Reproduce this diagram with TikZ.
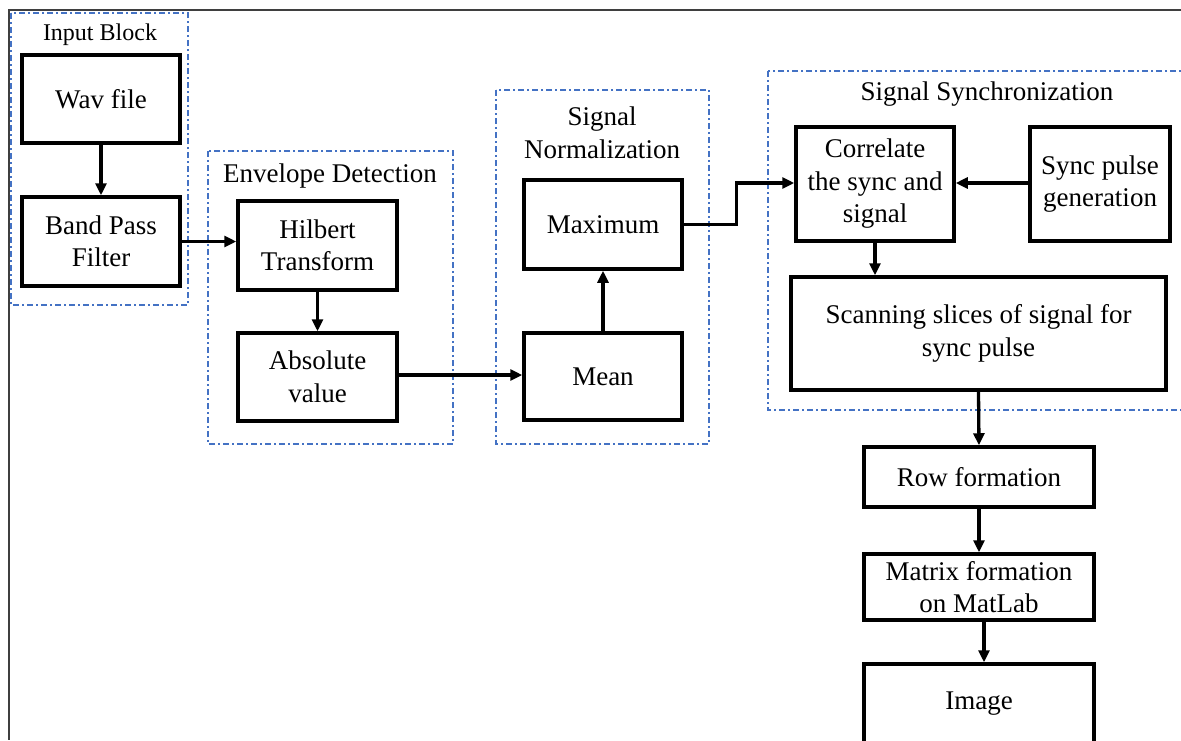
\documentclass[tikz,border=0pt]{standalone}
\usepackage{fontspec}
\setmainfont{Liberation Serif}
\usetikzlibrary{arrows.meta}
\definecolor{grpblue}{HTML}{4472C4}
\definecolor{framegray}{HTML}{3F3F3F}
\tikzset{
  blk/.style={draw=black, line width=3.5pt, align=center, inner sep=2pt,
    font=\fontsize{27}{32.5}\selectfont},
  grp/.style={draw=grpblue, line width=1.3pt,
    dash pattern=on 6pt off 3pt on 2pt off 3pt},
  grplabel/.style={align=center, inner sep=0pt, font=\fontsize{27}{32.5}\selectfont},
  arr/.style={draw=black, line width=3.3pt, -{Triangle[length=12pt,width=11pt]}},
}
\begin{document}
\begin{tikzpicture}[x=1pt, y=-1pt]
\useasboundingbox (0,0) rectangle (1181,740);
\clip (0,0) rectangle (1181,740);

% outer frame (top and left edges)
\draw[framegray, line width=2pt] (1181,10) -- (9,10) -- (9,740);

% dash-dot group outlines
\draw[grp] (11,13) rectangle (188,305);
\draw[grp] (208,151) rectangle (453,444);
\draw[grp] (496,90) rectangle (709,444);
\draw[grp] (768,71) rectangle (1200,410);

% group titles
\node[grplabel, font=\fontsize{24}{28}\selectfont] (tin) at (100,35) {Input Block};
\node[grplabel] (tenv) at (330,176) {Envelope Detection};
\node[grplabel] (tnorm) at (602,133) {Signal\\Normalization};
\node[grplabel] (tsync) at (987,94) {Signal Synchronization};

% processing blocks
\node[blk, minimum width=158pt, minimum height=88pt] (wav) at (101,99) {Wav file};
\node[blk, minimum width=158pt, minimum height=89pt] (bpf) at (101,241.5) {Band Pass\\Filter};
\node[blk, minimum width=159pt, minimum height=89pt] (hil) at (317.5,245.5) {Hilbert\\Transform};
\node[blk, minimum width=159pt, minimum height=88pt] (abs) at (317.5,377) {Absolute\\value};
\node[blk, minimum width=158pt, minimum height=89pt] (max) at (603,224.5) {Maximum};
\node[blk, minimum width=158pt, minimum height=87pt] (mean) at (603,376.5) {Mean};
\node[blk, minimum width=158pt, minimum height=114pt] (corr) at (875,184) {Correlate\\the sync and\\signal};
\node[blk, minimum width=140pt, minimum height=114pt] (sync) at (1100,184) {Sync pulse\\generation};
\node[blk, minimum width=375pt, minimum height=113pt] (scan) at (978.5,333.5) {Scanning slices of signal for\\sync pulse};
\node[blk, minimum width=230pt, minimum height=60pt] (row) at (979,477) {Row formation};
\node[blk, minimum width=230pt, minimum height=66pt] (mat) at (979,587) {Matrix formation\\on MatLab};
\node[blk, minimum width=230pt, minimum height=80pt] (img) at (979,704) {Image};

% connectors
\draw[arr] (wav.south) -- (bpf.north);
\draw[arr] (bpf.east) -- (bpf.east -| hil.west);
\draw[arr] (hil.south) -- (abs.north);
\draw[arr] ([yshift=2pt]abs.east) -- ([yshift=2pt]abs.east -| mean.west);
\draw[arr] (mean.north) -- (max.south);
\draw[arr] (max.east) -- ++(53,0) |- ([yshift=1pt]corr.west);
\draw[arr] ([yshift=1pt]sync.west) -- ([yshift=1pt]corr.east);
\draw[arr] (corr.south) -- (corr.south |- scan.north);
\draw[arr] (scan.south) -- (row.north);
\draw[arr] (row.south) -- (mat.north);
\draw[arr] ([xshift=5pt]mat.south) -- ([xshift=5pt]img.north);
\end{tikzpicture}
\end{document}
